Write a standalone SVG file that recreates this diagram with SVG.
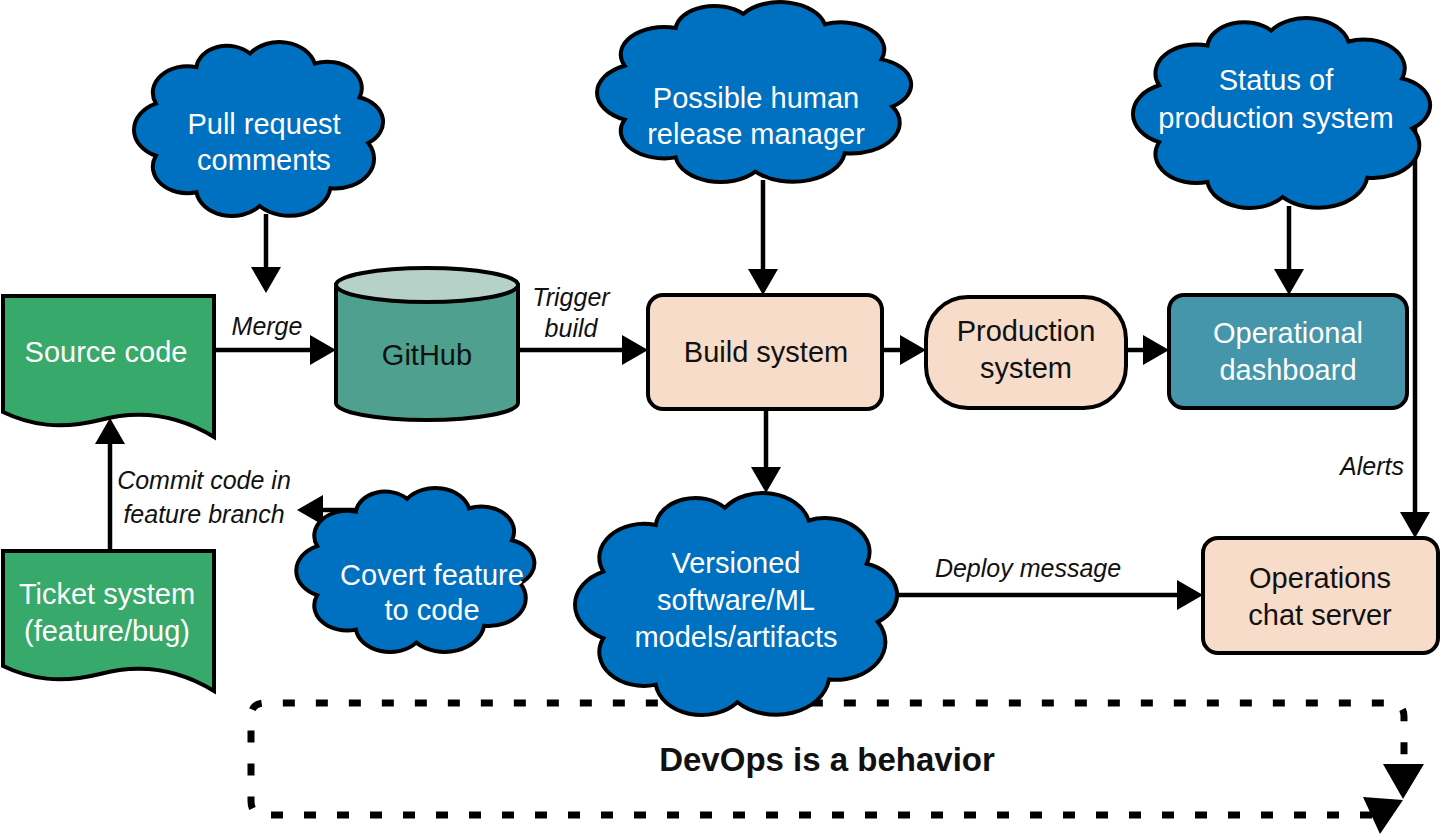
<svg xmlns="http://www.w3.org/2000/svg" xmlns:xlink="http://www.w3.org/1999/xlink" width="1441" height="835" viewBox="0 0 1441 835">
<style>
  .lbl { font-family: "Liberation Sans", Arial, sans-serif; font-size: 29px; text-anchor: middle; }
  .w { fill: #ffffff; }
  .k { fill: #111111; }
  .it { font-family: "Liberation Sans", Arial, sans-serif; font-size: 25px; font-style: italic; fill: #111111; text-anchor: middle; }
  .conn { fill: none; stroke: #000000; stroke-width: 4.5; marker-end: url(#ah); }
  .box { stroke: #000000; stroke-width: 4; }
  .peach { fill: #f6dcc9; }
  .green { fill: #36a96b; }
</style>
<defs>
  <marker id="ah" markerUnits="userSpaceOnUse" markerWidth="26" markerHeight="30" refX="6" refY="15" orient="auto">
    <path d="M0,0 L26,15 L0,30 Z" fill="#000000"/>
  </marker>
  <path id="cloud" d="M12.4,64.3 A13.5,13.5 0 0 1 12.4,39.7 A12.5,12.5 0 0 1 27.1,22.5 A11.2,11.2 0 0 1 46.5,16.1 A13.2,13.2 0 0 1 70,20.8 A12.5,12.5 0 0 1 86.3,36.8 A12,12 0 0 1 89.4,58.3 A14,14 0 0 1 75.7,79.6 A15,15 0 0 1 50,88 A13,13 0 0 1 27.1,81.5 A12.5,12.5 0 0 1 12.4,64.3 Z" fill="#0070c0" stroke="#000000" stroke-width="4" vector-effect="non-scaling-stroke"/>
</defs>
<rect x="0" y="0" width="1441" height="835" fill="#ffffff"/>

<g id="connectors">
  <path class="conn" d="M266,214 V273"/>
  <path class="conn" d="M214,350 H316"/>
  <path class="conn" d="M518,350 H628"/>
  <path class="conn" d="M763,180 V275"/>
  <path class="conn" d="M882,350 H906"/>
  <path class="conn" d="M1126,350 H1149"/>
  <path class="conn" d="M1289,206 V275"/>
  <path class="conn" d="M1415,125 V518"/>
  <path class="conn" d="M766,409 V473"/>
  <path class="conn" d="M897,595 H1183"/>
  <path class="conn" d="M110,552 V438"/>
  <path class="conn" d="M400,510 H317"/>
  <text class="it" x="267" y="335">Merge</text>
  <text class="it" x="571" y="306">Trigger</text>
  <text class="it" x="571" y="337">build</text>
  <text class="it" x="204" y="489">Commit code in</text>
  <text class="it" x="204" y="523">feature branch</text>
  <text class="it" x="1028" y="577">Deploy message</text>
  <text class="it" x="1372" y="475">Alerts</text>
</g>

<g id="devops-behavior">
  <path d="M1372,815 L265,815 Q251,815 251,801 L251,717 Q251,703 265,703 L1390,703 Q1404,703 1404,717 L1404,762" fill="none" stroke="#000000" stroke-width="7" stroke-dasharray="12 21"/>
  <polygon points="1383,764 1424,764 1403,799" fill="#000000"/>
  <polygon points="1363,797 1403,800 1380,834" fill="#000000"/>
  <text x="827" y="771" font-family="'Liberation Sans', Arial, sans-serif" font-size="33" font-weight="bold" fill="#111111" text-anchor="middle">DevOps is a behavior</text>
</g>

<g id="source-code">
  <path class="box green" d="M3,296 H214 V437 C170,410 130,412 100,420 C60,430 30,425 3,412 Z"/>
  <text class="lbl w" x="106" y="362">Source code</text>
</g>

<g id="ticket-system">
  <path class="box green" d="M3,551 H214 V691 C170,664 130,666 100,674 C60,684 30,679 3,666 Z"/>
  <text class="lbl w" x="107" y="604">Ticket system</text>
  <text class="lbl w" x="107" y="641">(feature/bug)</text>
</g>

<g id="github">
  <path class="box" d="M336,285 V403 A91,17 0 0 0 518,403 V285 Z" fill="#50a08f"/>
  <ellipse class="box" cx="427" cy="285" rx="91" ry="17" fill="#b5d1c8"/>
  <text class="lbl k" x="427" y="365">GitHub</text>
</g>

<g id="build-system">
  <rect class="box peach" x="648" y="295" width="234" height="114" rx="15"/>
  <text class="lbl k" x="766" y="362">Build system</text>
</g>

<g id="production-system">
  <rect class="box peach" x="926" y="297" width="200" height="111" rx="42"/>
  <text class="lbl k" x="1026" y="341">Production</text>
  <text class="lbl k" x="1026" y="378">system</text>
</g>

<g id="operational-dashboard">
  <rect class="box" x="1169" y="295" width="238" height="113" rx="15" fill="#4595ab"/>
  <text class="lbl w" x="1288" y="343">Operational</text>
  <text class="lbl w" x="1288" y="380">dashboard</text>
</g>

<g id="operations-chat-server">
  <rect class="box peach" x="1203" y="538" width="235" height="115" rx="15"/>
  <text class="lbl k" x="1320" y="588">Operations</text>
  <text class="lbl k" x="1320" y="625">chat server</text>
</g>

<g id="pull-request-comments">
  <use xlink:href="#cloud" transform="translate(121.7,19.44) scale(2.757,2.12)"/>
  <text class="lbl w" x="264" y="134">Pull request</text>
  <text class="lbl w" x="264" y="170">comments</text>
</g>

<g id="release-manager">
  <use xlink:href="#cloud" transform="translate(581.5,-21.34) scale(3.477,2.193)"/>
  <text class="lbl w" x="756" y="108">Possible human</text>
  <text class="lbl w" x="756" y="144">release manager</text>
</g>

<g id="status-production">
  <use xlink:href="#cloud" transform="translate(1118.3,-6.64) scale(3.289,2.315)"/>
  <text class="lbl w" x="1276" y="90">Status of</text>
  <text class="lbl w" x="1276" y="128">production system</text>
</g>

<g id="covert-feature">
  <use xlink:href="#cloud" transform="translate(284.5,466.7) scale(2.636,1.999)"/>
  <text class="lbl w" x="432" y="585">Covert feature</text>
  <text class="lbl w" x="432" y="620">to code</text>
</g>

<g id="versioned-artifacts">
  <use xlink:href="#cloud" transform="translate(559.1,464.2) scale(3.565,2.705)"/>
  <text class="lbl w" x="736" y="573">Versioned</text>
  <text class="lbl w" x="736" y="610">software/ML</text>
  <text class="lbl w" x="736" y="647">models/artifacts</text>
</g>
</svg>
